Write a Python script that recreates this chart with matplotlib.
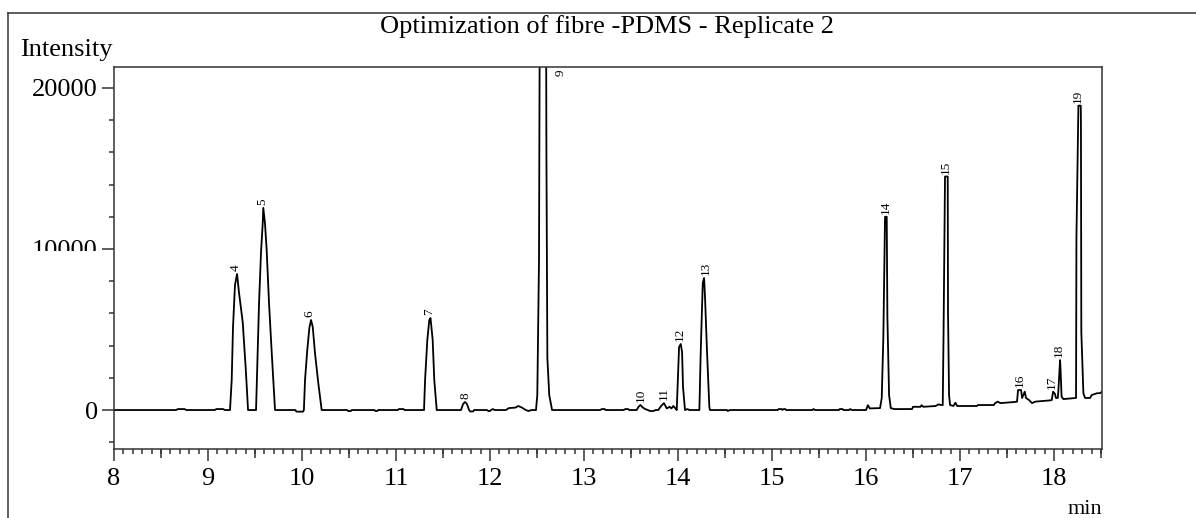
import numpy as np
import matplotlib.pyplot as plt
from matplotlib.lines import Line2D
from matplotlib.ticker import MultipleLocator
from matplotlib.transforms import Bbox, TransformedBbox

plt.rcParams['font.family'] = ['Liberation Serif', 'DejaVu Serif']

##############################
### Chromatogram trace
##############################
rt = [8.00, 8.66, 8.68, 8.75, 8.77, 9.07, 9.09, 9.16, 9.18,
      # peak 4
      9.234, 9.252, 9.266, 9.287, 9.309, 9.330, 9.369, 9.401, 9.426, 9.50,
      # peak 5
      9.511, 9.524, 9.543, 9.564, 9.582, 9.588, 9.606, 9.624, 9.649, 9.678, 9.713,
      9.93, 9.94, 10.01,
      # peak 6
      10.02, 10.032, 10.056, 10.078, 10.096, 10.114, 10.138, 10.173, 10.209,
      10.48, 10.49, 10.52, 10.53, 10.77, 10.78, 10.80, 10.81,
      11.02, 11.03, 11.08, 11.09,
      # peak 7
      11.298, 11.309, 11.333, 11.354, 11.367, 11.390, 11.407, 11.433,
      # peak 8
      11.691, 11.713, 11.734, 11.755, 11.777, 11.79, 11.82, 11.83,
      11.97, 11.98, 12.00, 12.01, 12.03, 12.05,
      12.17, 12.20, 12.27, 12.30, 12.34, 12.38, 12.41, 12.44,
      # peak 9 (off scale)
      12.489, 12.503, 12.521, 12.532, 12.564, 12.596, 12.600, 12.610, 12.63, 12.66,
      13.17, 13.19, 13.22, 13.23, 13.42, 13.44, 13.47, 13.48,
      # peaks 10, 11
      13.56, 13.58, 13.60, 13.62, 13.65, 13.68, 13.70, 13.74, 13.76,
      13.79, 13.82, 13.85, 13.88, 13.91, 13.93, 13.95, 13.97,
      # peak 12
      13.986, 13.996, 14.011, 14.029, 14.043, 14.053, 14.074, 14.10, 14.12,
      # peak 13
      14.227, 14.241, 14.263, 14.277, 14.287, 14.309, 14.333, 14.340,
      14.52, 14.53, 14.55,
      15.06, 15.07, 15.10, 15.11, 15.12, 15.14, 15.15,
      15.43, 15.44, 15.46, 15.71, 15.72, 15.75, 15.76, 15.82, 15.83, 15.85,
      16.00, 16.02, 16.04, 16.14,
      # peak 14
      16.149, 16.167, 16.184, 16.202, 16.220, 16.227, 16.245, 16.263,
      16.30, 16.49, 16.50, 16.58, 16.59, 16.61, 16.74, 16.77, 16.80,
      # peak 15
      16.816, 16.825, 16.840, 16.869, 16.872, 16.883, 16.894,
      16.93, 16.95, 16.97, 17.18, 17.19, 17.36, 17.37, 17.40, 17.43, 17.58,
      # peak 16
      17.606, 17.617, 17.649, 17.660, 17.688, 17.702, 17.734, 17.766, 17.80, 17.96,
      # peaks 17, 18
      17.975, 17.99, 18.01, 18.02, 18.04,
      18.046, 18.064, 18.07, 18.08, 18.10, 18.23,
      # peak 19
      18.234, 18.238, 18.259, 18.284, 18.286, 18.290, 18.312, 18.33,
      18.383, 18.40, 18.455, 18.49, 18.51]

intensity = [0, 0, 60, 60, 0, 0, 60, 60, 0,
             0, 1860, 5150, 7760, 8450, 7270, 5470, 2610, 0, 0,
             0, 2670, 6650, 9800, 11600, 12550, 11600, 9940, 6650, 3540, 0,
             0, -100, -100,
             0, 1860, 3730, 5090, 5590, 5170, 3540, 1680, 0,
             0, -60, -60, 0, 0, -60, -60, 0,
             0, 60, 60, 0,
             0, 1860, 4350, 5590, 5710, 4350, 1860, 0,
             0, 370, 500, 370, 0, -90, -90, 0,
             0, -60, -60, 0, 60, 0,
             0, 120, 150, 250, 150, 0, -60, 0,
             0, 930, 9300, 30000, 40000, 25000, 15800, 3230, 930, 0,
             0, 60, 60, 0, 0, 60, 60, 0,
             0, 200, 310, 180, 60, 0, -60, -60, 0,
             0, 250, 430, 100, 200, 100, 250, 120,
             0, 1550, 3910, 4100, 3600, 1430, 0, 60, 0,
             0, 3540, 7890, 8200, 7020, 3540, 190, 0,
             0, -60, 0,
             0, 60, 60, 0, 60, 60, 0,
             0, 60, 0, 0, 60, 60, 0, 0, 60, 0,
             0, 300, 100, 120,
             120, 750, 4530, 12000, 12000, 5780, 930, 120,
             60, 60, 200, 200, 300, 200, 250, 350, 310,
             310, 5090, 14500, 14500, 6020, 930, 310,
             250, 450, 250, 250, 310, 310, 410, 520, 430, 500,
             520, 1240, 1240, 745, 1140, 745, 620, 430, 520, 600,
             620, 1140, 1000, 750, 750,
             1200, 3100, 2380, 830, 680, 750,
             750, 10700, 18900, 18900, 17750, 4860, 1040, 750,
             750, 930, 1040, 1050, 1140]

# peak numbering (apex retention time / height)
peak_id = ['4', '5', '6', '7', '8', '10', '11', '12', '13', '14', '15', '16', '17', '18', '19']
peak_rt = [9.29, 9.58, 10.08, 11.355, 11.735, 13.60, 13.845, 14.02, 14.29, 16.21, 16.845, 17.64, 17.98, 18.055, 18.257]
peak_height = [8450, 12550, 5590, 5710, 500, 310, 430, 4100, 8200, 12000, 14500, 1240, 1140, 3100, 18900]

fig = plt.figure(figsize=(11.96, 5.18), dpi=100)
ax = fig.add_axes([114 / 1196, 69 / 518, 988 / 1196, 382 / 518])

ax.plot(rt, intensity, color='black', lw=1.3)

for pid, x, h in zip(peak_id, peak_rt, peak_height):
	ax.text(x, h + 180, pid, rotation=90, ha='center', va='bottom', fontsize=9.5)
# main peak is off scale, label sits beside it
ax.text(12.755, 21150, '9', rotation=90, ha='center', va='top', fontsize=9.5)

ax.set_xlim(8, 18.51)
ax.set_ylim(-2420, 21300)

frame = '#333333'
for s in ax.spines.values():
	s.set_color(frame)
	s.set_linewidth(1.1)

ax.set_xticks(range(8, 19))
ax.xaxis.set_minor_locator(MultipleLocator(0.1))
ax.set_yticks([0, 10000, 20000])
ax.yaxis.set_minor_locator(MultipleLocator(2000))
ax.tick_params(which='major', length=8.6, width=1.1, color=frame, labelsize=19, pad=3)
ax.tick_params(which='minor', length=3.6, width=1.1, color=frame)
ax.tick_params(axis='x', which='major', pad=5)

# half-minute ticks are a bit longer
half = ax.secondary_xaxis('bottom')
half.set_xticks(np.arange(8.5, 18.6, 1.0))
half.tick_params(length=6.4, width=1.1, color=frame, labelbottom=False)
half.spines['bottom'].set_visible(False)

# the 10000 label is cut off in the original printout
lab = ax.yaxis.get_major_ticks()[1].label1
lab.set_clip_box(TransformedBbox(Bbox([[0, (518 - 251) / 518], [1, 1]]), fig.transFigure))
lab.set_clip_on(True)

fig.text(607 / 1196, 1 - 27 / 518, 'Optimization of fibre -PDMS - Replicate 2', ha='center', va='center', fontsize=19)
fig.text(20 / 1196, 1 - 56 / 518, 'Intensity', ha='left', va='baseline', fontsize=19)
fig.text(1102 / 1196, 1 - 514 / 518, 'min', ha='right', va='baseline', fontsize=16)

# outer frame of the report page
fig.add_artist(Line2D([7.5 / 1196, 7.5 / 1196], [0, 1 - 12.5 / 518], transform=fig.transFigure, color=frame, lw=1.1))
fig.add_artist(Line2D([7.5 / 1196, 1], [1 - 12.5 / 518, 1 - 12.5 / 518], transform=fig.transFigure, color=frame, lw=1.1))

fig.savefig('out.png', dpi=100)
